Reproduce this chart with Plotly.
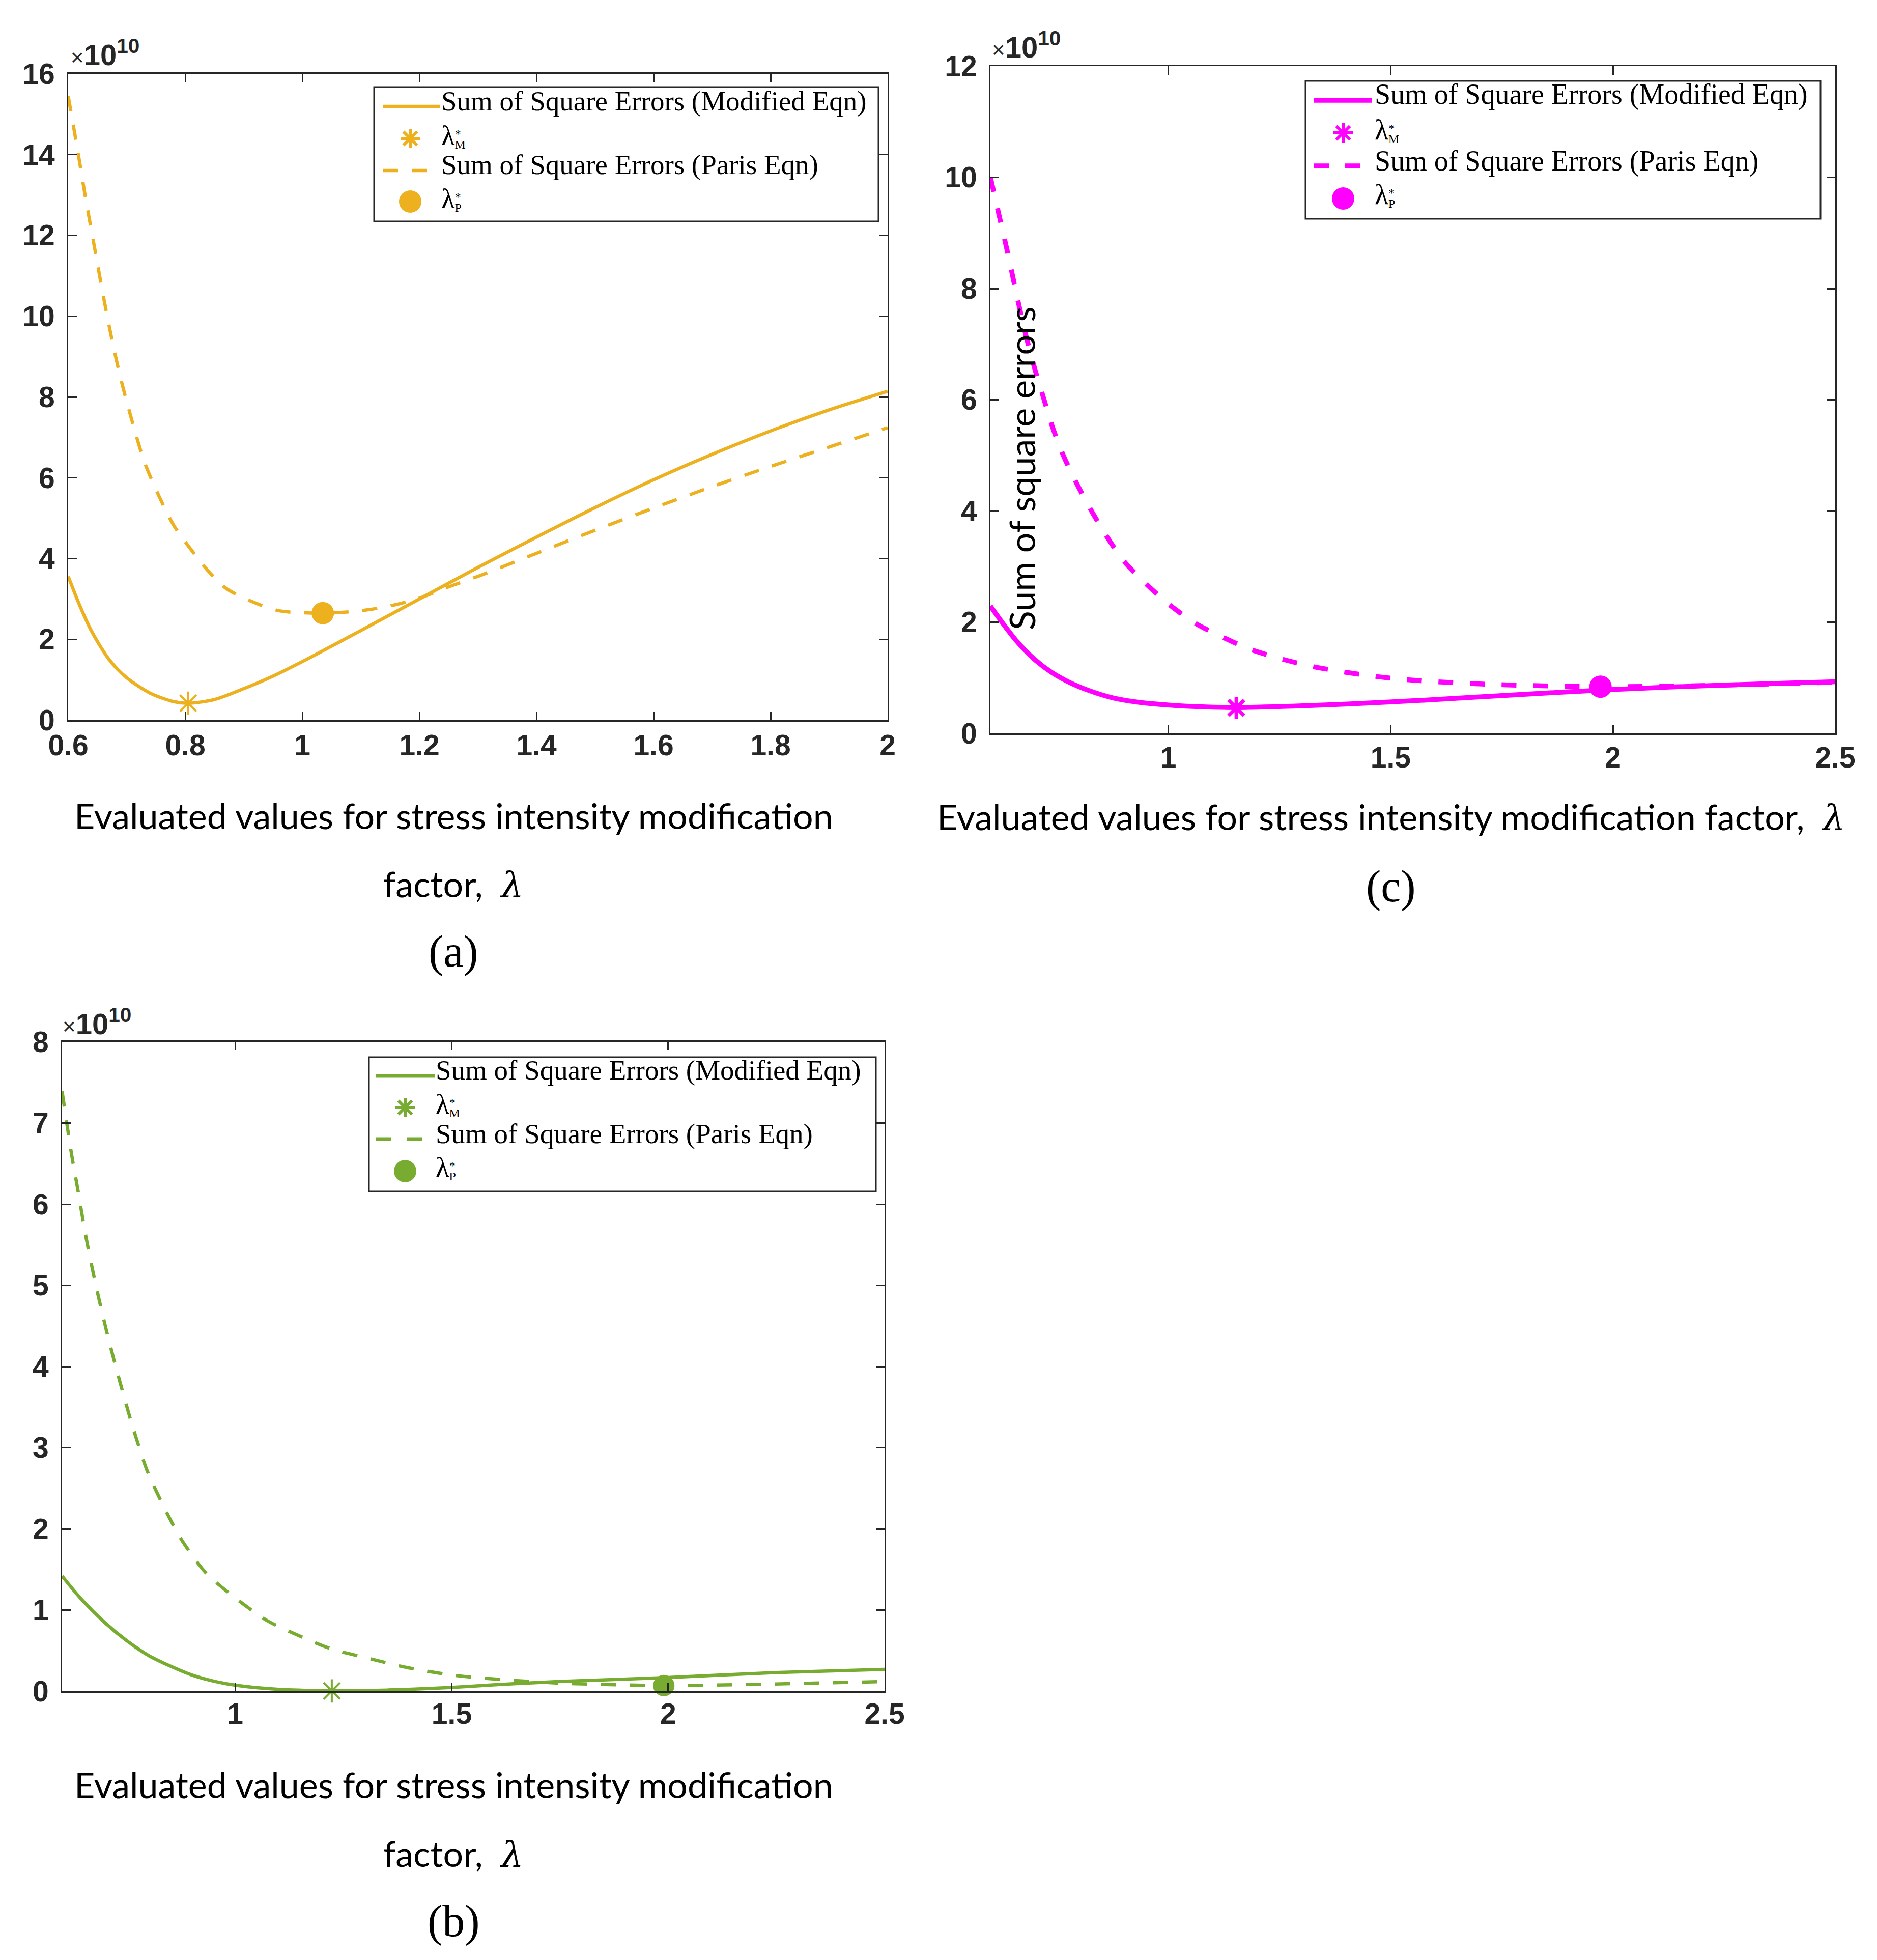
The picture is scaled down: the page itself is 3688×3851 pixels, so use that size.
import plotly.graph_objects as go

W, H = 3688, 3851

# ---- data (SSE values in units of 1e10) ----
# (a)
lam_a_mod = [0.6, 0.62, 0.64, 0.67, 0.7, 0.74, 0.78, 0.805, 0.85, 0.9, 0.95, 1.0,
             1.1, 1.2, 1.3, 1.4, 1.5, 1.6, 1.7, 1.8, 1.9, 2.0]
sse_a_mod = [3.56, 2.83, 2.2, 1.5, 1.05, 0.67, 0.46, 0.42, 0.51, 0.78, 1.09, 1.45,
             2.22, 3.0, 3.78, 4.53, 5.26, 5.95, 6.58, 7.16, 7.68, 8.14]
lam_a_par = [0.6, 0.615, 0.63, 0.645, 0.66, 0.675, 0.69, 0.71, 0.73, 0.755, 0.78, 0.81,
             0.84, 0.87, 0.91, 0.96, 1.035, 1.1, 1.15, 1.2, 1.25, 1.3, 1.4, 1.5, 1.6,
             1.7, 1.8, 1.9, 2.0]
sse_a_par = [15.45, 14.2, 12.9, 11.7, 10.5, 9.4, 8.44, 7.36, 6.4, 5.55, 4.83, 4.22,
             3.68, 3.26, 2.96, 2.71, 2.65, 2.71, 2.83, 3.02, 3.3, 3.56, 4.13, 4.7, 5.25,
             5.78, 6.28, 6.76, 7.24]
lam_a_M, sse_a_M = [0.805], [0.42]
lam_a_P, sse_a_P = [1.035], [2.65]

# (c)
lam_c_mod = [0.6, 0.626, 0.659, 0.698, 0.737, 0.777, 0.822, 0.875, 0.933, 1.0, 1.084,
             1.152, 1.28, 1.41, 1.58, 1.75, 2.0, 2.25, 2.5]
sse_c_mod = [2.29, 2.0, 1.66, 1.34, 1.1, 0.92, 0.77, 0.64, 0.56, 0.51, 0.475,
             0.465, 0.49, 0.53, 0.6, 0.68, 0.79, 0.87, 0.93]
lam_c_par = [0.6, 0.62, 0.64, 0.66, 0.68, 0.7, 0.72, 0.74, 0.765, 0.795, 0.826, 0.861,
             0.9, 0.946, 1.0, 1.061, 1.12, 1.185, 1.25, 1.32, 1.39, 1.46, 1.53, 1.6,
             1.7, 1.82, 1.97, 2.2, 2.5]
sse_c_par = [10.0, 9.3, 8.6, 7.85, 7.15, 6.55, 6.02, 5.5, 4.98, 4.48, 4.02, 3.55,
             3.1, 2.72, 2.33, 1.98, 1.74, 1.51, 1.35, 1.21, 1.11, 1.03, 0.97, 0.93,
             0.89, 0.86, 0.84, 0.86, 0.92]
lam_c_M, sse_c_M = [1.153], [0.46]
lam_c_P, sse_c_P = [1.972], [0.84]

# (b)
lam_b_mod = [0.6, 0.642, 0.7, 0.75, 0.8, 0.85, 0.9, 0.95, 1.0, 1.1, 1.2, 1.223, 1.3,
             1.4, 1.5, 1.6, 1.75, 2.0, 2.25, 2.5]
sse_b_mod = [1.42, 1.15, 0.84, 0.62, 0.44, 0.31, 0.2, 0.125, 0.075, 0.023, 0.006, 0.004,
             0.008, 0.023, 0.047, 0.08, 0.12, 0.17, 0.23, 0.27]
lam_b_par = [0.6, 0.622, 0.635, 0.655, 0.676, 0.703, 0.73, 0.763, 0.797, 0.838, 0.878,
             0.932, 1.0, 1.074, 1.149, 1.223, 1.304, 1.399, 1.5, 1.6, 1.75, 1.885, 1.99,
             2.155, 2.5]
sse_b_par = [7.39, 6.61, 6.22, 5.6, 5.05, 4.43, 3.88, 3.26, 2.71, 2.24, 1.85,
             1.46, 1.15, 0.87, 0.68, 0.52, 0.41, 0.29, 0.2, 0.15, 0.1, 0.08, 0.07,
             0.08, 0.12]
lam_b_M, sse_b_M = [1.223], [0.004]
lam_b_P, sse_b_P = [1.99], [0.07]

# ticks
a_xticks = [0.6, 0.8, 1.0, 1.2, 1.4, 1.6, 1.8, 2.0]
a_xtext = ['0.6', '0.8', '1', '1.2', '1.4', '1.6', '1.8', '2']
a_yticks = [0, 2, 4, 6, 8, 10, 12, 14, 16]
bc_xticks = [1.0, 1.5, 2.0, 2.5]
bc_xtext = ['1', '1.5', '2', '2.5']
c_yticks = [0, 2, 4, 6, 8, 10, 12]
b_yticks = [0, 1, 2, 3, 4, 5, 6, 7, 8]

ORANGE = '#EDB120'
MAGENTA = '#FF00FF'
GREEN = '#77AC30'
AX = '#262626'


def px(x):
    return x / W


def py(y):
    return 1 - y / H


fig = go.Figure()


def add_panel(ax, lm, sm, lp, sp, lM, sM, lP, sP, color, lw, dash, star, star_w, dot):
    xa, ya = ('x', 'y') if ax == 1 else ('x%d' % ax, 'y%d' % ax)
    fig.add_trace(go.Scatter(x=lm, y=sm, mode='lines', xaxis=xa, yaxis=ya,
                             line=dict(color=color, width=lw, shape='spline', smoothing=0.8),
                             name='Sum of Square Errors (Modified Eqn)', showlegend=False))
    fig.add_trace(go.Scatter(x=lp, y=sp, mode='lines', xaxis=xa, yaxis=ya,
                             line=dict(color=color, width=lw, dash=dash, shape='spline',
                                       smoothing=0.8),
                             name='Sum of Square Errors (Paris Eqn)', showlegend=False))
    fig.add_trace(go.Scatter(x=lM, y=sM, mode='markers', xaxis=xa, yaxis=ya, cliponaxis=False,
                             marker=dict(symbol='asterisk-open', size=star, color=color,
                                         line=dict(color=color, width=star_w)),
                             name='lambda M', showlegend=False))
    fig.add_trace(go.Scatter(x=lP, y=sP, mode='markers', xaxis=xa, yaxis=ya, cliponaxis=False,
                             marker=dict(symbol='circle', size=dot, color=color,
                                         line=dict(width=0)),
                             name='lambda P', showlegend=False))


add_panel(1, lam_a_mod, sse_a_mod, lam_a_par, sse_a_par, lam_a_M, sse_a_M, lam_a_P, sse_a_P,
          ORANGE, 6.5, '30px,27px', 38, 4, 44)
add_panel(2, lam_c_mod, sse_c_mod, lam_c_par, sse_c_par, lam_c_M, sse_c_M, lam_c_P, sse_c_P,
          MAGENTA, 9.5, '29px,33px', 36, 7, 44)
add_panel(3, lam_b_mod, sse_b_mod, lam_b_par, sse_b_par, lam_b_M, sse_b_M, lam_b_P, sse_b_P,
          GREEN, 6.5, '30px,27px', 38, 4, 42)

tickfont = dict(family='Liberation Sans', size=57, color=AX, weight='bold')
base = dict(showline=True, linecolor=AX, linewidth=3, mirror='ticks', ticks='inside',
            ticklen=17, tickwidth=3, tickcolor=AX, showgrid=False, zeroline=False,
            tickfont=tickfont, automargin=False, tickmode='array', fixedrange=True)

fig.update_layout(
    xaxis=dict(base, domain=[px(126), px(1736)], range=[0.6, 2.0], tickvals=a_xticks,
               ticktext=a_xtext, anchor='y', ticklabelstandoff=-2),
    yaxis=dict(base, domain=[py(1407), py(137)], range=[0, 16], tickvals=a_yticks,
               ticktext=[str(v) for v in a_yticks], anchor='x', ticklabelstandoff=12),
    xaxis2=dict(base, domain=[px(1938), px(3598)], range=[0.6, 2.5], tickvals=bc_xticks,
                ticktext=bc_xtext, anchor='y2', ticklabelstandoff=-4),
    yaxis2=dict(base, domain=[py(1433), py(122)], range=[0, 12], tickvals=c_yticks,
                ticktext=[str(v) for v in c_yticks], anchor='x2', ticklabelstandoff=12),
    xaxis3=dict(base, domain=[px(114), px(1730)], range=[0.6, 2.5], tickvals=bc_xticks,
                ticktext=bc_xtext, anchor='y3', ticklabelstandoff=-7),
    yaxis3=dict(base, domain=[py(3315), py(2039)], range=[0, 8], tickvals=b_yticks,
                ticktext=[str(v) for v in b_yticks], anchor='x3', ticklabelstandoff=12),
    width=W, height=H, margin=dict(l=0, r=0, t=0, b=0),
    paper_bgcolor='white', plot_bgcolor='white', template='none', showlegend=False,
)

annotations = []
shapes = []


def text(x, y, s, size, family='Lato', xanchor='center', yanchor='middle', angle=0,
         weight='normal', color='black', align='center'):
    annotations.append(dict(x=px(x), y=py(y), xref='paper', yref='paper', text=s,
                            showarrow=False, xanchor=xanchor, yanchor=yanchor,
                            textangle=angle, align=align, borderpad=0,
                            font=dict(family=family, size=size, color=color, weight=weight)))


lam_it = '<span style="font-family:\'DejaVu Serif\';font-style:italic">λ</span>'
exp_txt = '<span style="font-weight:normal;font-size:44px">×</span>10<sup>10</sup>'

# exponent labels
text(130, 133, exp_txt, 58, family='Liberation Sans', xanchor='left', yanchor='bottom',
     weight='bold', color=AX)
text(1940, 118, exp_txt, 58, family='Liberation Sans', xanchor='left', yanchor='bottom',
     weight='bold', color=AX)
text(114, 2037, exp_txt, 58, family='Liberation Sans', xanchor='left', yanchor='bottom',
     weight='bold', color=AX)

# axis labels and panel captions
XL = 70
text(883, 1594, 'Evaluated values for stress intensity modification', XL)
text(883, 1729, 'factor,\u00a0 ' + lam_it, XL)
text(883, 1862, '(a)', 88, family='Liberation Serif')
text(2725, 1597, 'Evaluated values for stress intensity modification factor,\u00a0 ' + lam_it, XL)
text(2725, 1733, '(c)', 88, family='Liberation Serif')
text(883, 3498, 'Evaluated values for stress intensity modification', XL)
text(883, 3634, 'factor,\u00a0 ' + lam_it, XL)
text(883, 3766, '(b)', 88, family='Liberation Serif')
text(1999, 912, 'Sum of square errors', XL, angle=-90)

# legends (hand-placed, sized like the reference legend boxes)
legends = [
    dict(box=(727, 163, 1718, 427), s0=744, s1=856, mx=798, tx=858,
         lines=(201, 327), marks=(264, 388), texts=(190, 315), lams=(258, 383),
         color=ORANGE, lw=6.5, dash='30px,27px', fs=55),
    dict(box=(2557, 151, 3569, 422), s0=2574, s1=2687, mx=2631, tx=2692,
         lines=(189, 318), marks=(253, 382), texts=(177, 308), lams=(247, 374),
         color=MAGENTA, lw=9.5, dash='30px,31px', fs=56),
    dict(box=(717, 2069, 1713, 2333), s0=730, s1=846, mx=788, tx=847,
         lines=(2106, 2230), marks=(2168, 2293), texts=(2094, 2219), lams=(2161, 2285),
         color=GREEN, lw=7, dash='31px,30px', fs=55),
]
line_labels = ['Sum of Square Errors (Modified Eqn)', 'Sum of Square Errors (Paris Eqn)']
lam_subs = ['M', 'P']

for lg in legends:
    x0, y0, x1, y1 = lg['box']
    shapes.append(dict(type='rect', xref='paper', yref='paper', x0=px(x0), x1=px(x1),
                       y0=py(y1), y1=py(y0), line=dict(color=AX, width=3),
                       fillcolor='white', layer='above'))
    l1, l3 = lg['lines']
    m2, m4 = lg['marks']
    shapes.append(dict(type='line', xref='paper', yref='paper', x0=px(lg['s0']),
                       x1=px(lg['s1']), y0=py(l1), y1=py(l1), layer='above',
                       line=dict(color=lg['color'], width=lg['lw'])))
    shapes.append(dict(type='line', xref='paper', yref='paper', x0=px(lg['s0']),
                       x1=px(lg['s1']), y0=py(l3), y1=py(l3), layer='above',
                       line=dict(color=lg['color'], width=lg['lw'], dash=lg['dash'])))
    # asterisk glyph
    rr = 19
    d = rr * 0.7071
    for dx, dy in [(rr, 0), (0, rr), (d, d), (d, -d)]:
        shapes.append(dict(type='line', xref='paper', yref='paper',
                           x0=px(lg['mx'] - dx), x1=px(lg['mx'] + dx),
                           y0=py(m2 - dy), y1=py(m2 + dy), layer='above',
                           line=dict(color=lg['color'], width=6)))
    # filled circle glyph
    rc = 22
    shapes.append(dict(type='circle', xref='paper', yref='paper',
                       x0=px(lg['mx'] - rc), x1=px(lg['mx'] + rc),
                       y0=py(m4 + rc), y1=py(m4 - rc), layer='above',
                       fillcolor=lg['color'], line=dict(width=0)))
    for lab, ry in zip(line_labels, lg['texts']):
        text(lg['tx'], ry, lab, lg['fs'], family='Liberation Serif', xanchor='left')
    for sub, ry in zip(lam_subs, lg['lams']):
        lam_lab = ('<span style="font-size:%dpx">λ</span>' % lg['fs'] +
                   '<sup><span style="letter-spacing:-12px">*</span></sup>' +
                   '<sub>' + sub + '</sub>')
        text(lg['tx'], ry, lam_lab, 34, family='Liberation Serif', xanchor='left')

fig.update_layout(annotations=annotations, shapes=shapes)

fig.write_html("out.html")
